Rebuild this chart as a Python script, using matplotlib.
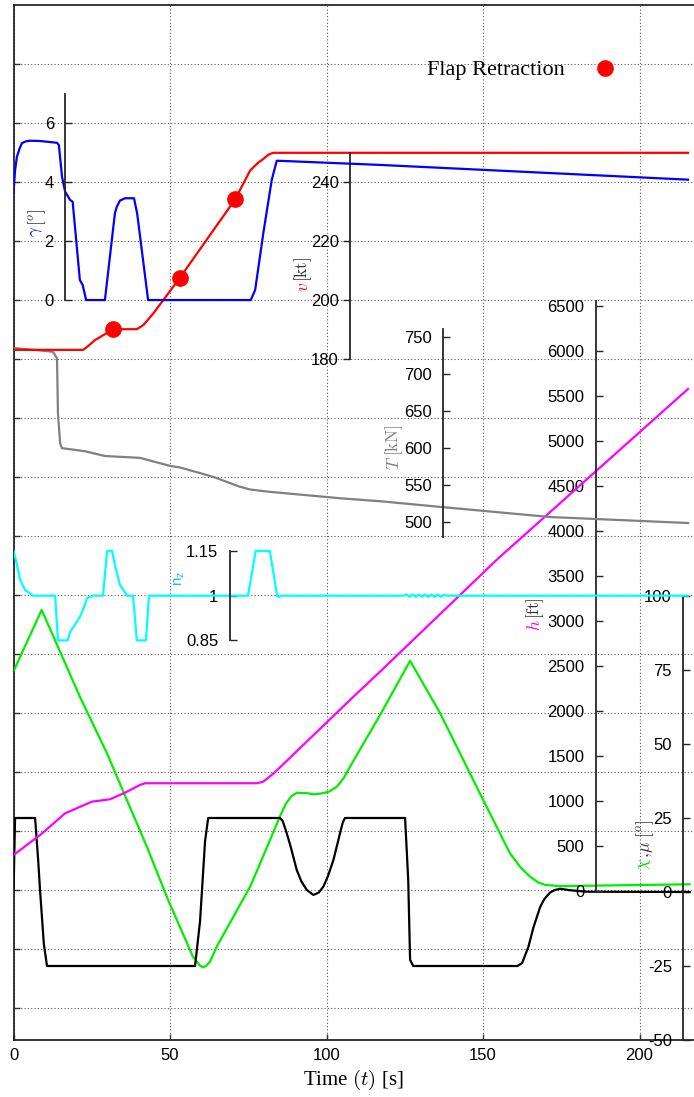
import matplotlib
matplotlib.use("Agg")
import matplotlib.pyplot as plt
from matplotlib.lines import Line2D

plt.rcParams.update({
    "font.family": "Liberation Sans",
    "mathtext.fontset": "cm",
    "font.size": 12,
})

# ---- data ----
t_gamma = [0, 0.5, 1.1, 2.0, 2.7, 4.0, 5.3, 8.5, 13.9, 14.5, 15.5, 16.5, 18.1, 18.9,
           21.2, 22.1, 23.2, 29.2, 32.4, 33.0, 34.0, 35.6, 38.5, 39.5, 43.0, 75.8,
           77.2, 79.8, 82.5, 84.1, 84.8, 117.1, 215.5]
gamma = [3.64, 4.40, 4.86, 5.15, 5.32, 5.38, 5.40, 5.39, 5.33, 5.25, 4.18, 3.67, 3.39,
         3.33, 0.68, 0.51, 0.0, 0.0, 2.94, 3.16, 3.37, 3.45, 3.45, 2.94, 0.0, 0.0,
         0.34, 2.26, 4.07, 4.72, 4.72, 4.58, 4.08]

t_v = [0, 22.3, 24.4, 26.0, 27.6, 31.9, 39.4, 41.5, 44.7, 53.2, 70.8, 75.6, 78.0,
       79.8, 81.5, 83.0, 215.5]
v = [183.2, 183.2, 185.0, 186.5, 187.5, 190.2, 190.2, 191.6, 195.6, 207.7, 234.2,
     244.0, 246.5, 247.9, 249.4, 250.0, 250.0]

# flap retraction events
t_flap = [31.9, 53.2, 70.8]
v_flap = [190.2, 207.7, 234.2]

t_T = [0.2, 12.6, 13.9, 14.2, 14.9, 15.5, 22.8, 29.2, 40.4, 50.0, 53.2, 59.6, 64.4,
       72.0, 75.6, 82.0, 99.8, 104.3, 117.1, 137.2, 171.4, 215.5]
thrust = [734.7, 729.7, 720.8, 646.9, 606.0, 599.6, 595.5, 589.0, 586.5, 575.7,
          573.5, 566.0, 560.0, 548.0, 543.8, 540.6, 533.8, 532.0, 528.0, 520.0,
          506.7, 498.6]

t_h = [0, 8.5, 16.5, 25.0, 30.8, 35.6, 40.4, 42.0, 77.7, 79.8, 83.5, 107.5, 117.1,
       154.9, 215.5]
h = [400, 622, 863, 992, 1019, 1092, 1178, 1197, 1197, 1214, 1319, 2122, 2437,
     3697, 5578]

t_nz = [0, 1.0, 2.1, 3.7, 6.3, 13.3, 14.2, 17.3, 18.1, 19.6, 21.2, 22.2, 23.5, 25.4,
        28.6, 29.9, 31.5, 32.4, 34.0, 36.3, 38.2, 39.4, 42.3, 43.3, 74.9, 77.4,
        81.9, 84.2, 84.8, 85.5, 124.5, 125.5, 126.5, 127.5, 128.5, 129.5, 130.5,
        131.5, 132.5, 133.5, 134.5, 135.5, 136.5, 137.5, 138.5, 215.5]
nz = [1.15, 1.109, 1.053, 1.019, 1.0, 1.0, 0.85, 0.85, 0.879, 0.902, 0.929, 0.952,
      0.992, 1.0, 1.0, 1.15, 1.15, 1.103, 1.036, 1.0, 1.0, 0.85, 0.85, 1.0, 1.0,
      1.15, 1.15, 1.0, 0.995, 1.0, 1.0, 1.004, 0.996, 1.004, 0.996, 1.004, 0.996,
      1.004, 0.996, 1.004, 0.996, 1.004, 0.996, 1.003, 1.0, 1.0]

t_chi = [0.2, 9.0, 21.2, 29.8, 42.6, 49.4, 57.3, 59.5, 60.5, 61.5, 62.8, 64.9, 75.6,
         78.8, 85.1, 87.0, 88.8, 90.5, 93.7, 96.0, 99.0, 101.0, 103.3, 105.5, 107.5,
         117.1, 126.7, 136.3, 149.0, 158.6, 162.0, 165.0, 167.5, 169.8, 174.6, 216.0]
chi = [75.0, 95.3, 66.0, 47.0, 15.3, -2.7, -21.8, -24.8, -25.4, -25.0, -23.5, -18.5,
       1.8, 9.7, 25.5, 29.8, 32.4, 33.5, 33.4, 33.0, 33.4, 34.0, 35.6, 38.5, 42.3,
       59.8, 78.1, 60.4, 33.3, 13.1, 8.3, 5.2, 3.3, 2.4, 2.0, 2.6]

t_mu = [0, 0.5, 6.9, 7.9, 8.5, 9.7, 10.7, 58.0, 59.6, 61.2, 62.2, 85.1, 86.0, 87.3,
        88.5, 90.5, 92.0, 93.7, 95.8, 97.5, 99.0, 100.5, 102.2, 103.3, 104.3, 105.2,
        105.9, 125.1, 126.1, 126.7, 127.7, 161.0, 162.5, 164.5, 166.1, 168.2, 169.5,
        171.4, 172.8, 174.6, 177.8, 183.1, 216.0]
mu = [0, 25, 25, 10.5, 0.3, -17.6, -25, -25, -9.8, 17.2, 25, 25, 24.0, 19.8,
      15.5, 7.4, 3.5, 0.7, -1.0, -0.2, 1.8, 5.5, 10.8, 15.5, 19.8, 23.5,
      25, 25, 4.1, -22.9, -25, -25, -24.0, -18.5, -12.0, -5.2, -2.5,
      -0.2, 0.6, 1.1, 0.6, 0.1, 0.0]

W, H = 694, 1097
L, R, TOP, BOT = 13.5, 694, 5, 1040
XLIM = (0, 217.4)
POS = [L / W, 1 - BOT / H, (R - L) / W, (BOT - TOP) / H]

fig = plt.figure(figsize=(W / 100, H / 100), dpi=100)

# main frame with grid
ax = fig.add_axes(POS)
ax.set_xlim(*XLIM)
ax.set_ylim(0, 1035)
ax.set_xticks([0, 50, 100, 150, 200])
ax.set_yticks([1035 - 59 * k for k in range(1, 18)])
ax.set_yticklabels([])
ax.tick_params(direction="in", length=4, width=1.0, color="0.2")
ax.tick_params(axis="x", pad=6)
ax.grid(True, ls=(0, (1, 2)), lw=0.8, color="0.35")
ax.spines["right"].set_visible(False)
for s in ["left", "top", "bottom"]:
    ax.spines[s].set_linewidth(1.3)
    ax.spines[s].set_color("0.15")
ax.set_xlabel(r"Time $(t)$ [s]", family="Liberation Serif", fontsize=15, labelpad=3)


def overlay(ylim, spine_px, bounds, ticks, labels, tdir="in"):
    a = fig.add_axes(POS)
    a.set_xlim(*XLIM)
    a.set_ylim(*ylim)
    a.patch.set_visible(False)
    for s in ["top", "right", "bottom"]:
        a.spines[s].set_visible(False)
    a.spines["left"].set_position(("axes", (spine_px - L) / (R - L)))
    a.spines["left"].set_bounds(*bounds)
    a.spines["left"].set_linewidth(1.3)
    a.spines["left"].set_color("0.15")
    a.set_xticks([])
    a.set_yticks(ticks)
    a.set_yticklabels(labels)
    if tdir == "in":
        a.tick_params(axis="y", direction="in", length=5, width=1.0, pad=8, color="0.15")
    else:
        a.tick_params(axis="y", direction="out", length=5, width=1.0, pad=3, color="0.15")
    return a


def vlabel(xpx, ypx, sym, unit, color, ucolor="0.2", size=12.5):
    fx, fy = xpx / W, 1 - ypx / H
    fig.text(fx, fy, sym, color=color, rotation=90, ha="center", va="top", fontsize=size)
    fig.text(fx, fy, unit, color=ucolor, rotation=90, ha="center", va="bottom", fontsize=size)


# chi / mu
a_chi = overlay((-50, 299.66), 683, (-50, 100), [-50, -25, 0, 25, 50, 75, 100],
                ["-50", "-25", "0", "25", "50", "75", "100"])
a_chi.plot(t_chi, chi, color="#00ee00", lw=1.6)
a_chi.plot(t_mu, mu, color="black", lw=1.6)
fx, fy = 645 / W, 1 - 858 / H
fig.text(fx, fy, r"$\chi$", color="#00dd00", rotation=90, ha="center", va="top", fontsize=12.5)
fig.text(fx, fy, r"$,\!\mu\ [^o]$", color="0.2", rotation=90, ha="center", va="bottom", fontsize=12.5)

# h
hticks = list(range(0, 7000, 500))
a_h = overlay((-1655.6, 9844), 595.5, (0, 6550), hticks, [str(x) for x in hticks])
a_h.plot(t_h, h, color="#ff00ff", lw=1.6)
vlabel(535, 619, r"$h$", r"$[\mathrm{ft}]$", "#ff00ff")

# nz
a_n = overlay((-0.491, 2.982), 229.5, (0.85, 1.15), [0.85, 1.0, 1.15], ["0.85", "1", "1.15"])
a_n.plot(t_nz, nz, color="#00ffff", lw=1.6)
fig.text(180 / W, 1 - 578 / H, r"$\mathregular{n_z}$", color="#22bbee", rotation=90,
         ha="center", va="center", fontsize=11)

# thrust
a_T = overlay((-198.9, 1197.5), 443, (480, 760), [500, 550, 600, 650, 700, 750],
              ["500", "550", "600", "650", "700", "750"])
a_T.plot(t_T, thrust, color="#808080", lw=1.6)
vlabel(394, 456, r"$T$", r"$[\mathrm{kN}]$", "#808080", ucolor="#808080")

# velocity
a_v = overlay((-50.75, 300.1), 350, (180, 250), [180, 200, 220, 240],
              ["180", "200", "220", "240"], tdir="out")
a_v.plot(t_v, v, color="#ff0000", lw=1.6)
a_v.plot(t_flap, v_flap, ls="none", marker="o", ms=11, color="#ff0000")
vlabel(303, 282, r"$v$", r"$[\mathrm{kt}]$", "#ff0000")

# flight path angle
a_g = overlay((-25.08, 10.0), 65, (0, 7), [0, 2, 4, 6], ["0", "2", "4", "6"])
a_g.plot(t_gamma, gamma, color="#0000ff", lw=1.6)
vlabel(37, 226, r"$\gamma$", r"$[^o]$", "#0000ff")

handle = Line2D([], [], ls="none", marker="o", ms=11, color="#ff0000")
fig.legend([handle], ["Flap Retraction"], loc="center left", markerfirst=False,
           frameon=False, bbox_to_anchor=(416 / W, 1 - 70 / H), borderpad=0,
           handletextpad=0.8, prop={"family": "Liberation Serif", "size": 16})

fig.savefig("out.png", dpi=100)
